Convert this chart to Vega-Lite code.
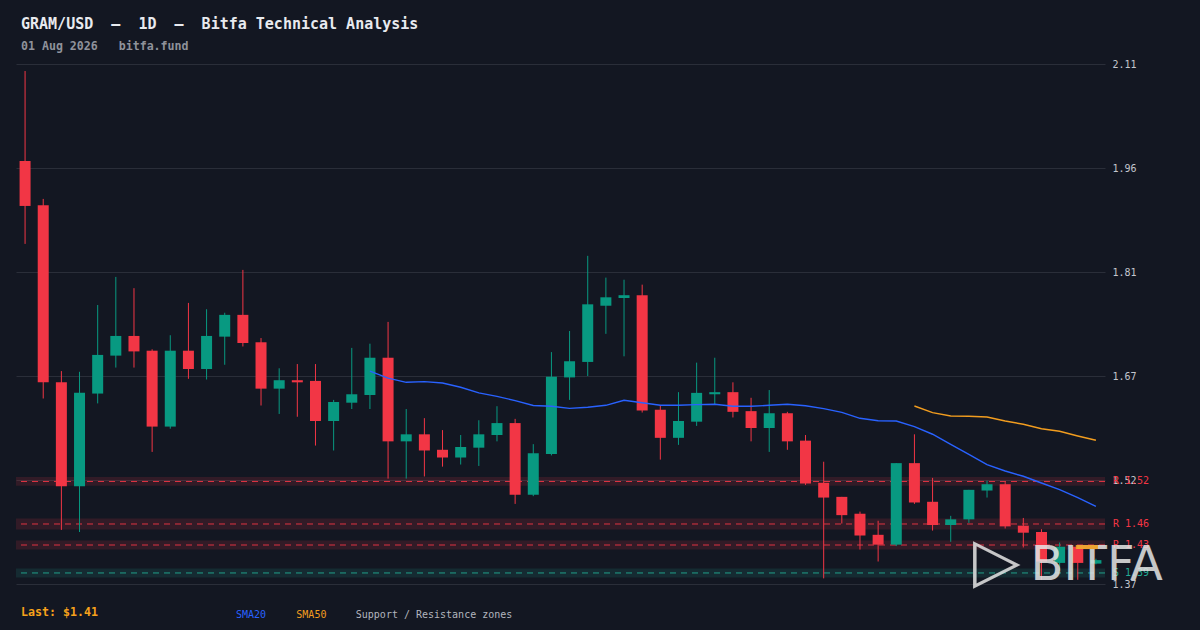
{
  "$schema": "https://vega.github.io/schema/vega-lite/v6.json",
  "width": 1089,
  "height": 520,
  "autosize": {"type": "none"},
  "padding": {"left": 16, "top": 64, "right": 95, "bottom": 46},
  "background": "#131722",
  "config": {"view": {"stroke": null}, "font": "DejaVu Sans Mono"},
  "title": {
    "text": "GRAM/USD\u00a0\u00a0–\u00a0\u00a01D\u00a0\u00a0–\u00a0\u00a0Bitfa Technical Analysis",
    "subtitle": "01 Aug 2026\u00a0\u00a0\u00a0bitfa.fund",
    "anchor": "start",
    "frame": "group",
    "dx": 5,
    "offset": 6,
    "font": "DejaVu Sans Mono",
    "fontSize": 15,
    "fontWeight": "bold",
    "color": "#e8eaef",
    "subtitleFont": "DejaVu Sans Mono",
    "subtitleFontSize": 11.6,
    "subtitleFontWeight": "bold",
    "subtitleColor": "#8f929b",
    "subtitlePadding": 9
  },
  "datasets": {
    "candles": [
      {"i": 0, "o": 1.972, "h": 2.100, "l": 1.854, "c": 1.908, "sma20": null, "sma50": null},
      {"i": 1, "o": 1.909, "h": 1.918, "l": 1.634, "c": 1.657, "sma20": null, "sma50": null},
      {"i": 2, "o": 1.657, "h": 1.673, "l": 1.447, "c": 1.509, "sma20": null, "sma50": null},
      {"i": 3, "o": 1.509, "h": 1.672, "l": 1.444, "c": 1.642, "sma20": null, "sma50": null},
      {"i": 4, "o": 1.641, "h": 1.767, "l": 1.627, "c": 1.696, "sma20": null, "sma50": null},
      {"i": 5, "o": 1.695, "h": 1.807, "l": 1.678, "c": 1.723, "sma20": null, "sma50": null},
      {"i": 6, "o": 1.723, "h": 1.791, "l": 1.678, "c": 1.701, "sma20": null, "sma50": null},
      {"i": 7, "o": 1.702, "h": 1.704, "l": 1.558, "c": 1.594, "sma20": null, "sma50": null},
      {"i": 8, "o": 1.594, "h": 1.724, "l": 1.591, "c": 1.702, "sma20": null, "sma50": null},
      {"i": 9, "o": 1.702, "h": 1.770, "l": 1.662, "c": 1.676, "sma20": null, "sma50": null},
      {"i": 10, "o": 1.676, "h": 1.761, "l": 1.661, "c": 1.723, "sma20": null, "sma50": null},
      {"i": 11, "o": 1.722, "h": 1.756, "l": 1.682, "c": 1.753, "sma20": null, "sma50": null},
      {"i": 12, "o": 1.753, "h": 1.817, "l": 1.708, "c": 1.713, "sma20": null, "sma50": null},
      {"i": 13, "o": 1.714, "h": 1.720, "l": 1.624, "c": 1.648, "sma20": null, "sma50": null},
      {"i": 14, "o": 1.648, "h": 1.677, "l": 1.612, "c": 1.660, "sma20": null, "sma50": null},
      {"i": 15, "o": 1.660, "h": 1.683, "l": 1.608, "c": 1.657, "sma20": null, "sma50": null},
      {"i": 16, "o": 1.659, "h": 1.683, "l": 1.567, "c": 1.602, "sma20": null, "sma50": null},
      {"i": 17, "o": 1.602, "h": 1.632, "l": 1.560, "c": 1.629, "sma20": null, "sma50": null},
      {"i": 18, "o": 1.628, "h": 1.706, "l": 1.619, "c": 1.640, "sma20": null, "sma50": null},
      {"i": 19, "o": 1.639, "h": 1.712, "l": 1.619, "c": 1.692, "sma20": 1.673, "sma50": null},
      {"i": 20, "o": 1.692, "h": 1.743, "l": 1.520, "c": 1.573, "sma20": 1.663, "sma50": null},
      {"i": 21, "o": 1.573, "h": 1.619, "l": 1.520, "c": 1.583, "sma20": 1.657, "sma50": null},
      {"i": 22, "o": 1.583, "h": 1.606, "l": 1.523, "c": 1.560, "sma20": 1.658, "sma50": null},
      {"i": 23, "o": 1.561, "h": 1.589, "l": 1.537, "c": 1.550, "sma20": 1.656, "sma50": null},
      {"i": 24, "o": 1.550, "h": 1.582, "l": 1.540, "c": 1.565, "sma20": 1.650, "sma50": null},
      {"i": 25, "o": 1.564, "h": 1.603, "l": 1.538, "c": 1.583, "sma20": 1.642, "sma50": null},
      {"i": 26, "o": 1.582, "h": 1.623, "l": 1.573, "c": 1.599, "sma20": 1.637, "sma50": null},
      {"i": 27, "o": 1.599, "h": 1.605, "l": 1.484, "c": 1.497, "sma20": 1.631, "sma50": null},
      {"i": 28, "o": 1.497, "h": 1.569, "l": 1.495, "c": 1.556, "sma20": 1.624, "sma50": null},
      {"i": 29, "o": 1.555, "h": 1.700, "l": 1.553, "c": 1.665, "sma20": 1.623, "sma50": null},
      {"i": 30, "o": 1.664, "h": 1.730, "l": 1.632, "c": 1.687, "sma20": 1.620, "sma50": null},
      {"i": 31, "o": 1.686, "h": 1.837, "l": 1.666, "c": 1.768, "sma20": 1.6215, "sma50": null},
      {"i": 32, "o": 1.766, "h": 1.806, "l": 1.726, "c": 1.778, "sma20": 1.6243, "sma50": null},
      {"i": 33, "o": 1.777, "h": 1.803, "l": 1.694, "c": 1.781, "sma20": 1.6314, "sma50": null},
      {"i": 34, "o": 1.781, "h": 1.796, "l": 1.614, "c": 1.617, "sma20": 1.628, "sma50": null},
      {"i": 35, "o": 1.618, "h": 1.624, "l": 1.547, "c": 1.578, "sma20": 1.6243, "sma50": null},
      {"i": 36, "o": 1.578, "h": 1.643, "l": 1.568, "c": 1.602, "sma20": 1.6243, "sma50": null},
      {"i": 37, "o": 1.601, "h": 1.685, "l": 1.595, "c": 1.642, "sma20": 1.6252, "sma50": null},
      {"i": 38, "o": 1.640, "h": 1.692, "l": 1.626, "c": 1.643, "sma20": 1.6257, "sma50": null},
      {"i": 39, "o": 1.643, "h": 1.657, "l": 1.607, "c": 1.615, "sma20": 1.6229, "sma50": null},
      {"i": 40, "o": 1.616, "h": 1.635, "l": 1.573, "c": 1.592, "sma20": 1.6229, "sma50": null},
      {"i": 41, "o": 1.592, "h": 1.646, "l": 1.558, "c": 1.613, "sma20": 1.6243, "sma50": null},
      {"i": 42, "o": 1.613, "h": 1.615, "l": 1.561, "c": 1.573, "sma20": 1.6257, "sma50": null},
      {"i": 43, "o": 1.574, "h": 1.582, "l": 1.511, "c": 1.513, "sma20": 1.6237, "sma50": null},
      {"i": 44, "o": 1.514, "h": 1.544, "l": 1.378, "c": 1.493, "sma20": 1.6195, "sma50": null},
      {"i": 45, "o": 1.494, "h": 1.494, "l": 1.456, "c": 1.468, "sma20": 1.6143, "sma50": null},
      {"i": 46, "o": 1.470, "h": 1.473, "l": 1.419, "c": 1.439, "sma20": 1.6058, "sma50": null},
      {"i": 47, "o": 1.440, "h": 1.460, "l": 1.402, "c": 1.426, "sma20": 1.6024, "sma50": null},
      {"i": 48, "o": 1.426, "h": 1.542, "l": 1.424, "c": 1.542, "sma20": 1.602, "sma50": null},
      {"i": 49, "o": 1.542, "h": 1.583, "l": 1.484, "c": 1.486, "sma20": 1.5939, "sma50": 1.6233},
      {"i": 50, "o": 1.487, "h": 1.521, "l": 1.446, "c": 1.454, "sma20": 1.5831, "sma50": 1.6138},
      {"i": 51, "o": 1.454, "h": 1.467, "l": 1.430, "c": 1.462, "sma20": 1.5688, "sma50": 1.6091},
      {"i": 52, "o": 1.462, "h": 1.504, "l": 1.457, "c": 1.504, "sma20": 1.5546, "sma50": 1.6087},
      {"i": 53, "o": 1.503, "h": 1.517, "l": 1.493, "c": 1.512, "sma20": 1.5398, "sma50": 1.6077},
      {"i": 54, "o": 1.512, "h": 1.515, "l": 1.449, "c": 1.452, "sma20": 1.5308, "sma50": 1.602},
      {"i": 55, "o": 1.453, "h": 1.464, "l": 1.422, "c": 1.443, "sma20": 1.5233, "sma50": 1.5973},
      {"i": 56, "o": 1.444, "h": 1.448, "l": 1.376, "c": 1.402, "sma20": 1.5137, "sma50": 1.591},
      {"i": 57, "o": 1.400, "h": 1.429, "l": 1.389, "c": 1.423, "sma20": 1.5042, "sma50": 1.5873},
      {"i": 58, "o": 1.423, "h": 1.424, "l": 1.376, "c": 1.400, "sma20": 1.4928, "sma50": 1.5806},
      {"i": 59, "o": 1.399, "h": 1.406, "l": 1.398, "c": 1.404, "sma20": 1.4806, "sma50": 1.5745}
    ],
    "zones": [
      {"kind": "R", "label": "R 1.52", "level": 1.5159, "lo": 1.5097, "hi": 1.5221},
      {"kind": "R", "label": "R 1.46", "level": 1.4554, "lo": 1.4477, "hi": 1.4631},
      {"kind": "R", "label": "R 1.43", "level": 1.4255, "lo": 1.4190, "hi": 1.4320},
      {"kind": "S", "label": "S 1.39", "level": 1.3857, "lo": 1.3794, "hi": 1.3920}
    ]
  },
  "encoding": {
    "x": {"field": "i", "type": "ordinal", "axis": null, "scale": {"paddingInner": 0, "paddingOuter": 0}},
    "y": {
      "type": "quantitative",
      "scale": {"domain": [1.37, 2.11], "zero": false, "nice": false},
      "axis": {
        "orient": "right",
        "values": [1.37, 1.518, 1.666, 1.814, 1.962, 2.11],
        "format": ".2f",
        "grid": true,
        "gridColor": "#2a2e39",
        "gridWidth": 1,
        "domain": false,
        "ticks": false,
        "labelPadding": 7,
        "labelColor": "#c3c6ce",
        "labelFont": "DejaVu Sans Mono",
        "labelFontSize": 10,
        "title": null
      }
    }
  },
  "layer": [
    {
      "data": {"name": "zones"},
      "mark": {"type": "rect", "opacity": 0.14},
      "encoding": {
        "x": null,
        "y": {"field": "lo", "type": "quantitative"},
        "y2": {"field": "hi"},
        "color": {"field": "kind", "type": "nominal", "scale": {"domain": ["R", "S"], "range": ["#f23645", "#22ab94"]}, "legend": null}
      }
    },
    {
      "data": {"name": "zones"},
      "mark": {"type": "rule", "strokeDash": [6, 5], "strokeWidth": 1, "opacity": 0.9},
      "encoding": {
        "x": null,
        "y": {"field": "level", "type": "quantitative"},
        "color": {"field": "kind", "type": "nominal", "legend": null}
      }
    },
    {
      "data": {"name": "candles"},
      "mark": {"type": "rule", "strokeWidth": 1},
      "encoding": {
        "y": {"field": "l", "type": "quantitative"},
        "y2": {"field": "h"},
        "color": {"condition": {"test": "datum.c >= datum.o", "value": "#089981"}, "value": "#f23645"}
      }
    },
    {
      "data": {"name": "candles"},
      "mark": {"type": "bar", "size": 11},
      "encoding": {
        "y": {"field": "o", "type": "quantitative"},
        "y2": {"field": "c"},
        "color": {"condition": {"test": "datum.c >= datum.o", "value": "#089981"}, "value": "#f23645"}
      }
    },
    {
      "data": {"name": "candles"},
      "transform": [{"filter": "datum.sma20 != null"}],
      "mark": {"type": "line", "color": "#2962ff", "strokeWidth": 1.4},
      "encoding": {"y": {"field": "sma20", "type": "quantitative"}}
    },
    {
      "data": {"name": "candles"},
      "transform": [{"filter": "datum.sma50 != null"}],
      "mark": {"type": "line", "color": "#f29d1f", "strokeWidth": 1.4},
      "encoding": {"y": {"field": "sma50", "type": "quantitative"}}
    },
    {
      "data": {"name": "zones"},
      "mark": {"type": "text", "align": "left", "baseline": "middle", "dx": 17, "fontSize": 10, "font": "DejaVu Sans Mono"},
      "encoding": {
        "x": {"datum": 59, "type": "ordinal"},
        "y": {"field": "level", "type": "quantitative"},
        "text": {"field": "label"},
        "color": {"field": "kind", "type": "nominal", "legend": null}
      }
    },
    {
      "data": {"values": [{}]},
      "mark": {"type": "text", "text": "▷", "align": "left", "baseline": "middle", "dx": -14, "fontSize": 62, "font": "DejaVu Sans", "color": "#e6e6e6", "opacity": 0.85},
      "encoding": {"x": {"datum": 53, "type": "ordinal"}, "y": {"datum": 1.401, "type": "quantitative"}}
    },
    {
      "data": {"values": [{}]},
      "mark": {"type": "text", "text": "BITFA", "align": "left", "baseline": "alphabetic", "dx": -11, "fontSize": 48, "font": "DejaVu Sans", "color": "#e6e6e6", "opacity": 0.85},
      "encoding": {"x": {"datum": 56, "type": "ordinal"}, "y": {"datum": 1.3757, "type": "quantitative"}}
    },
    {
      "data": {"values": [{}]},
      "mark": {"type": "rule", "color": "#f29d1f", "strokeWidth": 4, "strokeCap": "square", "opacity": 0.9},
      "encoding": {"x": {"datum": 58, "type": "ordinal"}, "x2": {"datum": 59}, "y": {"datum": 1.4226, "type": "quantitative"}}
    },
    {
      "data": {"values": [{}]},
      "mark": {"type": "text", "text": "Last: $1.41", "align": "left", "baseline": "middle", "dx": -4, "dy": 29, "fontSize": 11.6, "fontWeight": "bold", "font": "DejaVu Sans Mono", "color": "#f7a21b"},
      "encoding": {"x": {"datum": 0, "type": "ordinal"}, "y": {"datum": 1.37, "type": "quantitative"}}
    },
    {
      "data": {"values": [{}]},
      "mark": {"type": "text", "text": "SMA20", "align": "left", "baseline": "middle", "dx": -7, "dy": 31, "fontSize": 10, "font": "DejaVu Sans Mono", "color": "#2962ff"},
      "encoding": {"x": {"datum": 12, "type": "ordinal"}, "y": {"datum": 1.37, "type": "quantitative"}}
    },
    {
      "data": {"values": [{}]},
      "mark": {"type": "text", "text": "SMA50", "align": "left", "baseline": "middle", "dx": -1, "dy": 31, "fontSize": 10, "font": "DejaVu Sans Mono", "color": "#f29d1f"},
      "encoding": {"x": {"datum": 15, "type": "ordinal"}, "y": {"datum": 1.37, "type": "quantitative"}}
    },
    {
      "data": {"values": [{}]},
      "mark": {"type": "text", "text": "Support / Resistance zones", "align": "left", "baseline": "middle", "dx": 4, "dy": 31, "fontSize": 10, "font": "DejaVu Sans Mono", "color": "#b2b5be"},
      "encoding": {"x": {"datum": 18, "type": "ordinal"}, "y": {"datum": 1.37, "type": "quantitative"}}
    }
  ]
}
